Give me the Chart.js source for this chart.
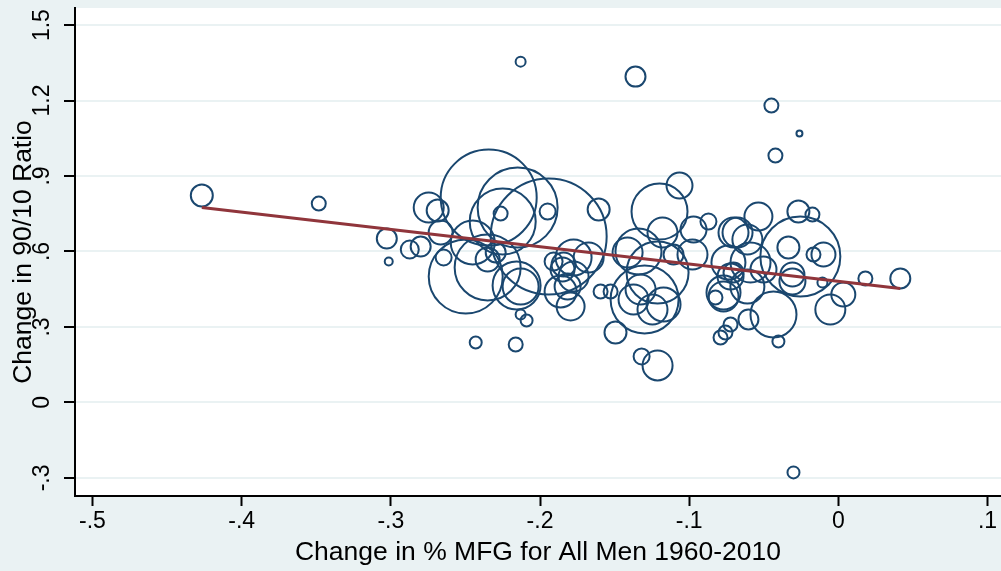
<!DOCTYPE html>
<html><head><meta charset="utf-8">
<script src="https://cdn.jsdelivr.net/npm/chart.js@4/dist/chart.umd.min.js"></script>
<style>html,body{margin:0;padding:0;background:#eaf2f3;overflow:hidden}canvas{display:block}</style>
</head><body>
<canvas id="c" width="1001" height="571"></canvas>
<script>
// Change in % manufacturing employment (men), 1960-2010
const mfgChange=[-0.4267,-0.3483,-0.3027,-0.3014,-0.2873,-0.2800,-0.2746,-0.2686,-0.2344,-0.2264,
-0.2150,-0.2250,-0.1942,-0.1949,-0.1607,-0.2666,-0.2451,-0.2646,-0.2351,-0.2498,
-0.2351,-0.2297,-0.2130,-0.2157,-0.2130,-0.2090,-0.2431,-0.2163,-0.1909,-0.1849,
-0.1775,-0.1815,-0.1795,-0.1862,-0.1674,-0.1594,-0.1527,-0.1494,-0.1413,-0.1373,
-0.2130,-0.1360,-0.0449,-0.0261,-0.0422,-0.0301,-0.1065,-0.1199,-0.0871,-0.0971,
-0.0703,-0.1179,-0.1340,-0.0978,-0.1105,-0.1775,-0.1842,-0.1212,-0.1299,-0.1326,
-0.1172,-0.1246,-0.1319,-0.1212,-0.0770,-0.0790,-0.0757,-0.0723,-0.0723,-0.0536,
-0.0676,-0.0268,-0.0174,-0.0255,-0.0610,-0.0589,-0.0737,-0.0335,-0.0100,-0.0167,
-0.0502,-0.0703,-0.0308,-0.0308,-0.0610,-0.0770,-0.0824,-0.0107,0.0181,0.0415,
0.0033,-0.0054,-0.0435,-0.0603,-0.0402];
// Change in 90/10 ratio
const ratioChange=[0.8224,0.7906,0.6516,0.5602,0.6079,0.6198,0.7747,0.7628,0.8145,0.7509,
0.7747,0.7191,0.6595,0.7588,0.7668,0.6754,0.6357,0.5761,0.5364,0.5006,
0.5681,0.5960,0.4609,0.4648,0.3496,0.3258,0.2384,0.2304,0.5602,0.5284,
0.5006,0.4609,0.3814,0.4410,0.5761,0.4410,0.4410,0.2781,0.5960,0.4092,
1.3548,1.2952,1.1800,1.0687,0.9813,-0.2781,0.8621,0.7588,0.7191,0.6873,
0.6754,0.6754,0.5999,0.5880,0.5880,0.5761,0.5483,0.5165,0.4092,0.4490,
0.3893,0.3695,0.1828,0.1470,0.4211,0.2582,0.2781,0.3099,0.5006,0.7390,
0.6754,0.7588,0.7469,0.5800,0.6476,0.5562,0.5562,0.6158,0.5880,0.5880,
0.5284,0.5165,0.5085,0.4807,0.4609,0.4370,0.4172,0.4768,0.4927,0.4927,
0.4291,0.3695,0.3496,0.3298,0.2424];
// population weight (marker size)
const popWeight=[11,7,10,4,9,10,15,11,48,7,
40,33,58,8,11,12,22,8,33,37,
12,10,18,24,5,6,6,7,9,12,
15,13,14,16,15,7,7,11,15,15,
5,10,7,3,7,6,13,28,8,13,
15,15,23,15,10,18,12,31,34,15,
17,15,8,15,15,7,7,7,13,14,
15,11,7,40,15,20,17,11,12,7,
13,10,12,13,17,17,7,5,7,10,
12,15,23,10,6];
// fitted line end points
const fitX=[-0.4267,0.0415];
const fitY=[0.7747,0.4529];
const xTicks=[-0.5,-0.4,-0.3,-0.2,-0.1,0,0.1];
const yTicks=[-0.3,0,0.3,0.6,0.9,1.2,1.5];

const FONT='"Liberation Sans", Arial, Helvetica, sans-serif';
Chart.defaults.font.family=FONT;
function fmt(v){v=Math.round(v*10)/10; if(v===0)return '0'; const s=String(Math.abs(v)).replace(/^0/,''); return (v<0?'-':'')+s;}

const plotBg={id:'plotBg',beforeDraw(ch){const {ctx,chartArea:a}=ch;ctx.save();ctx.fillStyle='#ffffff';ctx.fillRect(a.left,a.top,a.right-a.left,a.bottom-a.top);ctx.restore();}};
const yText={id:'yText',afterDraw(ch){
  const s=ch.scales.y, ctx=ch.ctx, a=ch.chartArea;
  ctx.save(); ctx.fillStyle='#000'; ctx.textAlign='center'; ctx.textBaseline='alphabetic';
  ctx.font='23px '+FONT;
  s.ticks.forEach(t=>{const py=s.getPixelForValue(t.value);ctx.save();ctx.translate(a.left-26,py);ctx.rotate(-Math.PI/2);ctx.fillText(fmt(t.value),0,0);ctx.restore();});
  ctx.font='26.5px '+FONT;
  ctx.translate(a.left-44,(a.top+a.bottom)/2); ctx.rotate(-Math.PI/2);
  ctx.fillText('Change in 90/10 Ratio',0,0);
  ctx.restore();
}};

const bubbles=mfgChange.map((x,i)=>({x:x,y:ratioChange[i],r:popWeight[i]}));
const fit=fitX.map((x,i)=>({x:x,y:fitY[i]}));

new Chart(document.getElementById('c'),{
  data:{datasets:[
    {type:'line',data:fit,borderColor:'#90353b',borderWidth:3,pointRadius:0,fill:false,order:0},
    {type:'bubble',data:bubbles,backgroundColor:'rgba(0,0,0,0)',borderColor:'#1a476f',borderWidth:2,hoverRadius:0,hoverBorderWidth:2,order:1}
  ]},
  options:{
    responsive:false,animation:false,devicePixelRatio:1,
    layout:{autoPadding:false,padding:{top:8,left:0,right:0,bottom:0}},
    plugins:{legend:{display:false},tooltip:{enabled:false}},
    scales:{
      x:{type:'linear',position:'bottom',min:-0.5117,max:0.109,
        afterBuildTicks:s=>{s.ticks=xTicks.map(v=>({value:v}));},
        afterFit:s=>{s.height=75;},
        border:{display:true,color:'#000',width:2},
        grid:{drawOnChartArea:false,drawTicks:true,tickLength:10,tickColor:'#000',tickWidth:2},
        ticks:{color:'#000',font:{size:23},padding:2,maxRotation:0,autoSkip:false,callback:v=>fmt(v)},
        title:{display:true,text:'Change in % MFG for All Men 1960-2010',color:'#000',font:{size:26.5},padding:{top:0,bottom:2}}
      },
      y:{type:'linear',position:'left',min:-0.372,max:1.568,
        afterBuildTicks:s=>{s.ticks=yTicks.map(v=>({value:v}));},
        afterFit:s=>{s.width=75;},
        border:{display:true,color:'#000',width:2},
        grid:{color:'#eaf2f3',lineWidth:2,drawTicks:true,tickLength:11,tickColor:'#000',tickWidth:2},
        ticks:{display:false}
      }
    }
  },
  plugins:[plotBg,yText]
});
</script>
</body></html>
